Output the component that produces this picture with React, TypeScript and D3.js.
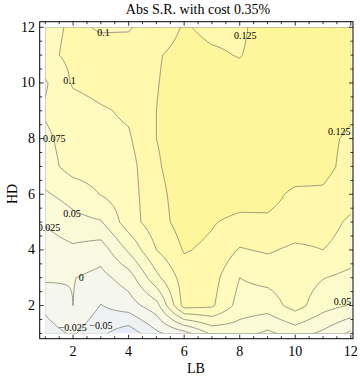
import React from "react";
import * as d3 from "d3";

const LB = [1, 2, 3, 4, 5, 6, 7, 8, 9, 10, 11, 12];
const HD = [1, 2, 3, 4, 5, 6, 7, 8, 9, 10, 11, 12];
// rows: HD = 1 .. 12, columns: LB = 1 .. 12
const row1 = [-0.035, -0.022, -0.045, -0.065, -0.03, -0.01, 0.03, 0.035, 0.02, 0.035, 0.02, -0.005];
const row2 = [-0.02, 0.0, -0.026, -0.012, 0.015, 0.11, 0.104, 0.065, 0.062, 0.085, 0.06, 0.048];
const row3 = [0.004, 0.001, -0.008, 0.012, 0.068, 0.112, 0.11, 0.075, 0.082, 0.088, 0.076, 0.068];
const row4 = [0.012, 0.02, 0.012, 0.054, 0.1, 0.127, 0.12, 0.098, 0.103, 0.095, 0.1, 0.088];
const row5 = [0.027, 0.042, 0.048, 0.088, 0.115, 0.135, 0.127, 0.118, 0.121, 0.115, 0.112, 0.095];
const row6 = [0.047, 0.06, 0.076, 0.089, 0.118, 0.136, 0.14, 0.138, 0.133, 0.12, 0.122, 0.112];
const row7 = [0.065, 0.085, 0.087, 0.09, 0.122, 0.138, 0.14, 0.14, 0.14, 0.138, 0.131, 0.118];
const row8 = [0.07, 0.087, 0.093, 0.097, 0.125, 0.137, 0.14, 0.14, 0.14, 0.138, 0.131, 0.121];
const row9 = [0.078, 0.088, 0.097, 0.104, 0.125, 0.136, 0.138, 0.138, 0.14, 0.14, 0.14, 0.129];
const row10 = [0.072, 0.103, 0.11, 0.113, 0.124, 0.134, 0.136, 0.133, 0.138, 0.14, 0.14, 0.14];
const row11 = [0.094, 0.106, 0.108, 0.11, 0.123, 0.132, 0.128, 0.124, 0.135, 0.138, 0.138, 0.138];
const row12 = [0.092, 0.104, 0.098, 0.098, 0.112, 0.127, 0.12, 0.12, 0.137, 0.138, 0.138, 0.138];
const rows = [row1, row2, row3, row4, row5, row6, row7, row8, row9, row10, row11, row12];

const levels = [-0.05, -0.025, 0, 0.025, 0.05, 0.075, 0.1, 0.125];
const bandColors = ["#e7edf6", "#eff2f2", "#f5f6ec", "#f9f9e2", "#fbfad6", "#fdfbca", "#fffabd", "#fff8ad", "#fff69b"];
const xTicks = [2, 4, 6, 8, 10, 12];
const yTicks = [2, 4, 6, 8, 10, 12];
const labels = [
  { t: "0.1", x: 3.1, y: 11.83 },
  { t: "0.125", x: 8.2, y: 11.7 },
  { t: "0.1", x: 1.87, y: 10.08 },
  { t: "0.125", x: 11.58, y: 8.25 },
  { t: "0.075", x: 1.32, y: 8.0 },
  { t: "0.05", x: 1.96, y: 5.32 },
  { t: "0.025", x: 1.13, y: 4.8 },
  { t: "0", x: 2.29, y: 3.0 },
  { t: "\u22120.025", x: 1.99, y: 1.2 },
  { t: "\u22120.05", x: 3.0, y: 1.27 },
  { t: "0.05", x: 11.7, y: 2.13 },
];

const W = 360, H = 380;
const X0 = 45.3, X1 = 350.8, Y0 = 333.4, Y1 = 27.3;
const FL = 39.7, FR = 353, FT = 21.7, FB = 338.7;

export default function App() {
  const x = d3.scaleLinear().domain([1, 12]).range([X0, X1]);
  const y = d3.scaleLinear().domain([1, 12]).range([Y0, Y1]);
  const step = 0.05;
  const N = Math.round(11 / step) + 1;
  const vals: number[] = new Array(N * N);
  for (let j = 0; j < N; j++) {
    const hv = 1 + j * step;
    const j0 = Math.min(Math.floor(hv) - 1, 10);
    const fy = hv - 1 - j0;
    for (let i = 0; i < N; i++) {
      const lv = 1 + i * step;
      const i0 = Math.min(Math.floor(lv) - 1, 10);
      const fx = lv - 1 - i0;
      const a = rows[j0][i0], b = rows[j0][i0 + 1], c = rows[j0 + 1][i0], d = rows[j0 + 1][i0 + 1];
      vals[j * N + i] = a * (1 - fx) * (1 - fy) + b * fx * (1 - fy) + c * (1 - fx) * fy + d * fx * fy;
    }
  }
  const cont = d3.contours().size([N, N]).thresholds(levels)(vals);
  const proj = d3.geoTransform({
    point(px: number, py: number) {
      (this as any).stream.point(x(1 + (px - 0.5) * step), y(1 + (py - 0.5) * step));
    },
  });
  const path = d3.geoPath(proj);
  const minor: number[] = [];
  for (let v = 1; v <= 12.001; v += 0.5) minor.push(v);

  return (
    <svg width={W} height={H} style={{ display: "block", position: "absolute", left: 0, top: 0 }}>
      <defs>
        <clipPath id="plotclip">
          <rect x={X0} y={Y1} width={X1 - X0} height={Y0 - Y1} />
        </clipPath>
        <clipPath id="frameclip">
          <rect x={FL + 0.5} y={FT + 0.5} width={FR - FL - 1} height={FB - FT - 1} />
        </clipPath>
      </defs>
      <rect x={0} y={0} width={W} height={H} fill="#fff" />
      <g clipPath="url(#plotclip)">
        <rect x={X0} y={Y1} width={X1 - X0} height={Y0 - Y1} fill={bandColors[0]} />
        {cont.map((c, k) => (
          <path key={"f" + k} d={path(c as any) || ""} fill={bandColors[k + 1]} stroke="none" />
        ))}
        {cont.map((c, k) => (
          <path key={"l" + k} d={path(c as any) || ""} fill="none" stroke="#7a7a6a" strokeWidth={0.9} strokeOpacity={0.85} />
        ))}
      </g>
      <g clipPath="url(#frameclip)">
        {labels.map((l, k) => (
          <text key={"t" + k} x={x(l.x)} y={y(l.y)} textAnchor="middle" dominantBaseline="central"
            fontFamily="'Liberation Serif', 'DejaVu Serif', serif" fontSize={10} fill="#000">{l.t}</text>
        ))}
      </g>
      <g fontFamily="'Liberation Serif', 'DejaVu Serif', serif" fill="#000">
        <rect x={FL} y={FT} width={FR - FL} height={FB - FT} fill="none" stroke="#000" strokeWidth={1} />
        {minor.map((v) => {
          const major = xTicks.includes(v);
          const len = major ? 4 : 2.5;
          return (
            <g key={"mx" + v}>
              <line x1={x(v)} x2={x(v)} y1={FB} y2={FB - len} stroke="#000" strokeWidth={0.8} />
              <line x1={x(v)} x2={x(v)} y1={FT} y2={FT + len} stroke="#000" strokeWidth={0.8} />
              <line x1={FL} x2={FL + len} y1={y(v)} y2={y(v)} stroke="#000" strokeWidth={0.8} />
              <line x1={FR} x2={FR - len} y1={y(v)} y2={y(v)} stroke="#000" strokeWidth={0.8} />
            </g>
          );
        })}
        {xTicks.map((v) => (
          <text key={"xt" + v} x={x(v)} y={351} textAnchor="middle" dominantBaseline="central" fontSize={14}>{v}</text>
        ))}
        {yTicks.map((v) => (
          <text key={"yt" + v} x={35} y={y(v)} textAnchor="end" dominantBaseline="central" fontSize={14}>{v}</text>
        ))}
        <text x={196} y={368} textAnchor="middle" dominantBaseline="central" fontSize={14}>LB</text>
        <text transform={`translate(12,${194}) rotate(-90)`} textAnchor="middle" dominantBaseline="central" fontSize={14}>HD</text>
        <text x={198} y={9} textAnchor="middle" dominantBaseline="central" fontSize={14}>Abs S.R. with cost 0.35%</text>
      </g>
    </svg>
  );
}
